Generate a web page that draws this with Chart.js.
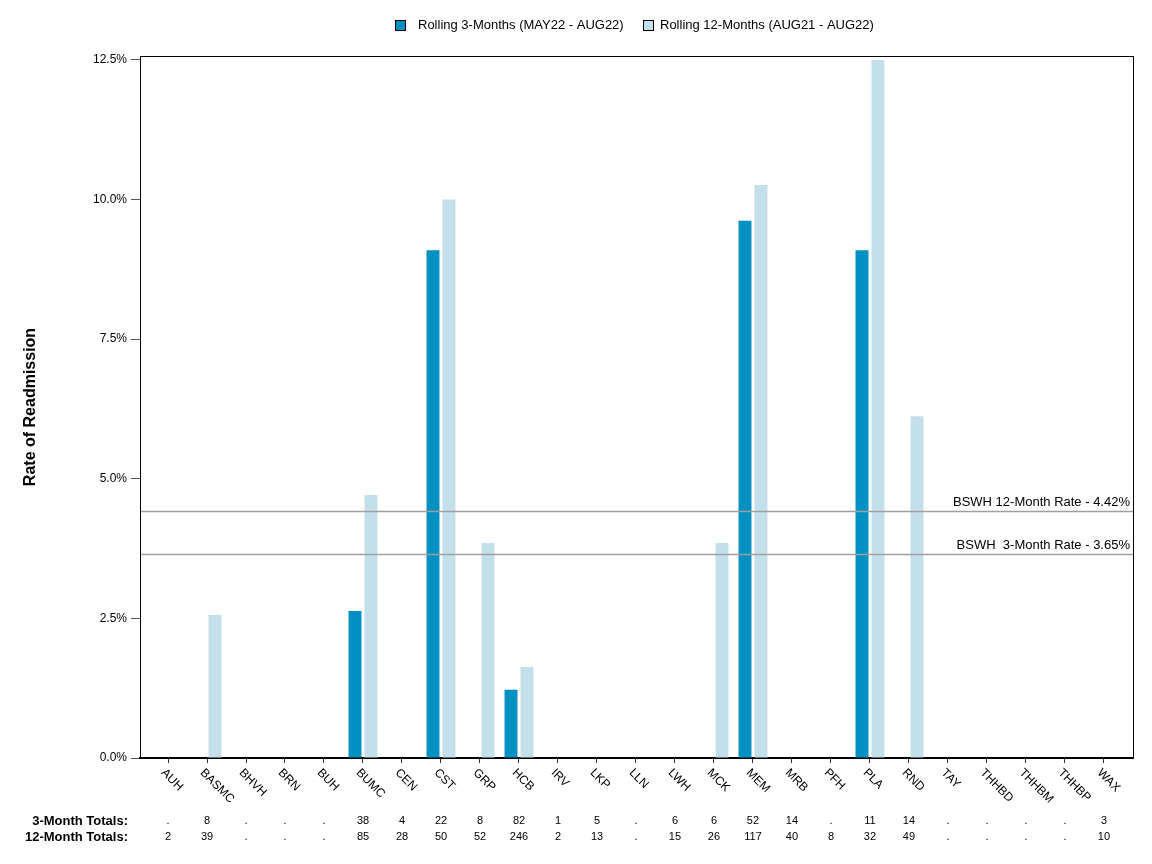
<!DOCTYPE html>
<html><head><meta charset="utf-8">
<script src="https://cdn.jsdelivr.net/npm/chart.js@4"></script>
<style>html,body{margin:0;padding:0;background:#fff}#wrap{width:1152px;height:864px}</style>
</head><body><div id="wrap"><canvas id="c" width="1152" height="864"></canvas></div>
<script>
const categories = ['AUH','BASMC','BHVH','BRN','BUH','BUMC','CEN','CST','GRP','HCB','IRV','LKP','LLN','LWH','MCK','MEM','MRB','PFH','PLA','RND','TAY','THHBD','THHBM','THHBP','WAX'];
const rate3 = [null,0,null,null,null,2.63,0,9.09,0,1.22,0,0,null,0,0,9.62,0,null,9.09,0,null,null,null,null,0];
const rate12 = [0,2.56,null,null,null,4.71,0,10.0,3.85,1.63,0,0,null,0,3.85,10.26,0,0,12.5,6.12,null,null,null,null,0];
const totals3 = ['.','8','.','.','.','38','4','22','8','82','1','5','.','6','6','52','14','.','11','14','.','.','.','.','3'];
const totals12 = ['2','39','.','.','.','85','28','50','52','246','2','13','.','15','26','117','40','8','32','49','.','.','.','.','10'];
const yTicks = [0,2.5,5,7.5,10,12.5];
const refLines = [{value:4.42,label:'BSWH 12-Month Rate - 4.42%'},{value:3.65,label:'BSWH  3-Month Rate - 3.65%'}];
const seriesNames = ['Rolling 3-Months (MAY22 - AUG22)','Rolling 12-Months (AUG21 - AUG22)'];
const colors = ['#0090c2','#c3dfea'];

const FONT = '"Liberation Sans", Arial, sans-serif';

const extras = {
  id:'extras',
  afterDatasetsDraw(chart){
    const ctx = chart.ctx, a = chart.chartArea, x = chart.scales.x, y = chart.scales.y;
    ctx.save();
    refLines.forEach(r=>{
      const py = Math.round(y.getPixelForValue(r.value))+0.5;
      ctx.strokeStyle='#a0a0a0'; ctx.lineWidth=1.5;
      ctx.beginPath(); ctx.moveTo(a.left,py); ctx.lineTo(a.right,py); ctx.stroke();
      ctx.fillStyle='#000'; ctx.font='13px '+FONT; ctx.textAlign='right'; ctx.textBaseline='alphabetic';
      ctx.fillText(r.label, a.right-3, py-6);
    });
    ctx.strokeStyle='#000'; ctx.lineWidth=1;
    ctx.strokeRect(a.left+0.5, a.top+0.5, a.right-a.left, a.bottom-a.top);
    ctx.restore();
  },
  afterDraw(chart){
    const ctx = chart.ctx, x = chart.scales.x, a = chart.chartArea;
    ctx.save();
    ctx.fillStyle='#000'; ctx.font='12px '+FONT; ctx.textAlign='left'; ctx.textBaseline='middle';
    categories.forEach((c,i)=>{
      const px = x.getPixelForValue(i);
      ctx.save(); ctx.translate(px-5, a.bottom+13); ctx.rotate(Math.PI/4); ctx.fillText(c,0,0); ctx.restore();
    });
    ctx.font='bold 13px '+FONT; ctx.textAlign='right'; ctx.textBaseline='middle';
    ctx.fillText('3-Month Totals:',128,821);
    ctx.fillText('12-Month Totals:',128,837);
    ctx.font='11px '+FONT; ctx.textAlign='center';
    categories.forEach((c,i)=>{
      const px = x.getPixelForValue(i);
      ctx.fillText(totals3[i],px,821);
      ctx.fillText(totals12[i],px,837);
    });
    ctx.font='13px '+FONT; ctx.textAlign='left'; ctx.textBaseline='middle';
    const items=[{x:395,tx:418},{x:643,tx:660}];
    items.forEach((it,k)=>{
      ctx.fillStyle=colors[k]; ctx.fillRect(it.x+0.5,20.5,10,10);
      ctx.strokeStyle='#000'; ctx.lineWidth=1; ctx.strokeRect(it.x+0.5,20.5,10,10);
      ctx.fillStyle='#000'; ctx.fillText(seriesNames[k],it.tx,25.5);
    });
    ctx.restore();
  }
};

new Chart(document.getElementById('c'),{
  type:'bar',
  data:{
    datasets:[
      {label:seriesNames[0],data:rate3.map((v,i)=>({x:i,y:v})),backgroundColor:colors[0],borderWidth:0,categoryPercentage:0.82,barPercentage:0.81},
      {label:seriesNames[1],data:rate12.map((v,i)=>({x:i,y:v})),backgroundColor:colors[1],borderWidth:0,categoryPercentage:0.82,barPercentage:0.81}
    ]
  },
  options:{
    responsive:false,animation:false,
    layout:{padding:{top:56,right:19,bottom:0,left:0}},
    plugins:{legend:{display:false},tooltip:{enabled:false}},
    scales:{
      x:{type:'linear',min:-0.718,max:24.744,offset:false,
        afterBuildTicks(s){s.ticks=categories.map((c,i)=>({value:i}));},
        afterFit(s){s.height=106;},
        ticks:{callback:()=>'',autoSkip:false,maxRotation:0},
        grid:{offset:false,drawOnChartArea:false,drawTicks:true,tickLength:5,color:'#333'},
        border:{color:'#000',width:2}
      },
      y:{min:0,max:12.57,
        afterBuildTicks(s){s.ticks=yTicks.map(v=>({value:v}));},
        afterFit(s){s.width=140;},
        ticks:{callback:v=>v.toFixed(1)+'%',color:'#000',font:{family:FONT,size:12},padding:4},
        grid:{drawOnChartArea:false,drawTicks:true,tickLength:9,color:'#555'},
        border:{color:'#000',width:1},
        title:{display:true,text:'Rate of Readmission',color:'#000',font:{family:FONT,size:16,weight:'bold'},padding:{top:21,bottom:0}}
      }
    }
  },
  plugins:[extras]
});
</script></body></html>
